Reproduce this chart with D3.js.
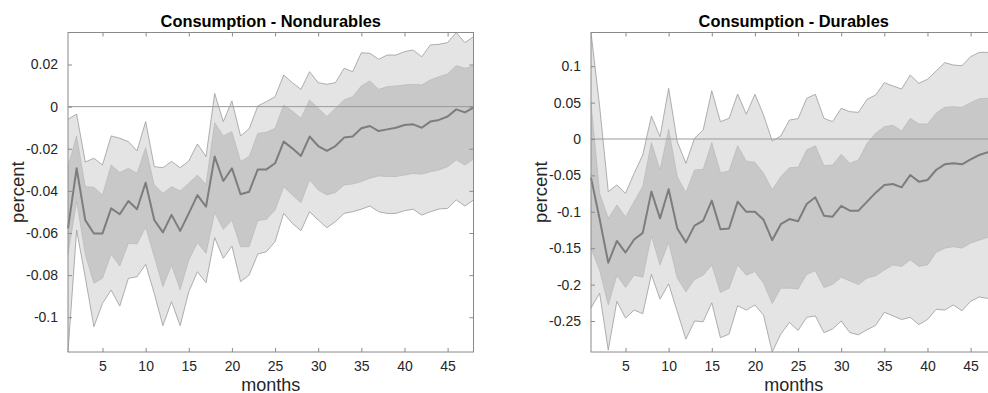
<!DOCTYPE html>
<html><head><meta charset="utf-8">
<script src="https://cdn.jsdelivr.net/npm/d3@7/dist/d3.min.js"></script>
<style>
html,body{margin:0;padding:0;background:#fff;}
svg{display:block;font-family:"Liberation Sans",Arial,Helvetica,sans-serif;}
</style></head>
<body><svg id="c" width="988" height="393"></svg>
<script>
// ---------------- data ----------------
const months = [1,2,3,4,5,6,7,8,9,10,11,12,13,14,15,16,17,18,19,20,21,22,23,24,25,26,27,28,29,30,31,32,33,34,35,36,37,38,39,40,41,42,43,44,45,46,47,48];

const titles = ["Consumption - Nondurables", "Consumption - Durables"];
const xLabel = "months";
const yLabel = "percent";
const xTicks = [5,10,15,20,25,30,35,40,45];
const yTicksND = [-0.1,-0.08,-0.06,-0.04,-0.02,0,0.02];
const yTicksD = [-0.25,-0.2,-0.15,-0.1,-0.05,0,0.05,0.1];

// Nondurables
const ndMedian = [-0.0578,-0.0293,-0.0539,-0.0602,-0.0602,-0.0483,-0.0511,-0.0448,-0.0487,-0.0361,-0.0538,-0.0597,-0.0514,-0.059,-0.0507,-0.042,-0.0475,-0.0237,-0.0353,-0.0293,-0.0416,-0.0404,-0.0298,-0.0298,-0.0269,-0.0166,-0.0198,-0.0234,-0.0142,-0.0187,-0.021,-0.0187,-0.0147,-0.0142,-0.0103,-0.0092,-0.0116,-0.0108,-0.01,-0.0087,-0.0084,-0.01,-0.0071,-0.0063,-0.0047,-0.0013,-0.0027,-0.0005];
const ndUpper68 = [-0.0285,-0.0139,-0.038,-0.0383,-0.042,-0.0277,-0.0313,-0.0293,-0.0317,-0.0195,-0.0372,-0.0412,-0.038,-0.04,-0.0364,-0.0325,-0.0369,-0.0076,-0.0139,-0.0119,-0.026,-0.0237,-0.0127,-0.0122,-0.0103,0.0008,-0.0021,-0.0055,0.0032,-0.0008,-0.0047,-0.0008,0.0032,0.0047,0.0098,0.0122,0.0082,0.0095,0.0098,0.0103,0.0106,0.0103,0.0127,0.0142,0.0155,0.0195,0.0182,0.0193];
const ndUpper90 = [-0.006,-0.0035,-0.0263,-0.0245,-0.0277,-0.0139,-0.015,-0.0166,-0.021,-0.0071,-0.0285,-0.029,-0.026,-0.029,-0.0258,-0.0177,-0.0237,0.0063,-0.0071,0.0027,-0.0139,-0.0105,0.0003,0.0024,0.0047,0.015,0.0114,0.0082,0.0166,0.0114,0.0106,0.0114,0.0182,0.0166,0.0256,0.0253,0.0225,0.0245,0.0245,0.0261,0.0269,0.0237,0.0293,0.0296,0.0304,0.0352,0.0304,0.0332];
const ndLower68 = [-0.07,-0.045,-0.07,-0.0839,-0.0815,-0.07,-0.0757,-0.0649,-0.0652,-0.0573,-0.0712,-0.0855,-0.0752,-0.087,-0.0728,-0.0646,-0.0697,-0.0503,-0.0583,-0.0538,-0.0665,-0.0665,-0.0541,-0.0535,-0.0491,-0.038,-0.0419,-0.0456,-0.0348,-0.0396,-0.0419,-0.0408,-0.0372,-0.0367,-0.0356,-0.034,-0.0329,-0.0332,-0.0332,-0.0325,-0.0317,-0.0321,-0.0309,-0.0301,-0.0285,-0.0253,-0.0277,-0.025];
const ndLower90 = [-0.1165,-0.0586,-0.081,-0.1045,-0.0934,-0.0871,-0.0947,-0.0815,-0.0808,-0.0749,-0.0887,-0.104,-0.0926,-0.104,-0.0879,-0.0784,-0.0836,-0.0622,-0.072,-0.0662,-0.0831,-0.0799,-0.07,-0.0689,-0.0641,-0.0507,-0.0554,-0.0589,-0.0499,-0.0538,-0.0575,-0.0546,-0.0507,-0.0499,-0.0487,-0.0472,-0.0499,-0.0507,-0.0507,-0.0494,-0.0487,-0.0515,-0.0499,-0.0486,-0.0483,-0.0443,-0.0472,-0.0443];

// Durables
const dMedian = [-0.053,-0.11,-0.17,-0.14,-0.156,-0.138,-0.129,-0.0723,-0.109,-0.069,-0.123,-0.142,-0.119,-0.112,-0.0847,-0.124,-0.123,-0.0861,-0.1,-0.1,-0.111,-0.139,-0.117,-0.11,-0.113,-0.0893,-0.0801,-0.1053,-0.1067,-0.092,-0.0984,-0.0984,-0.0861,-0.0737,-0.0632,-0.0618,-0.0664,-0.0494,-0.0586,-0.0563,-0.0426,-0.0348,-0.0334,-0.0348,-0.0279,-0.022,-0.0183,-0.016];
const dUpper68 = [0.049,-0.075,-0.109,-0.0907,-0.107,-0.0861,-0.065,-0.005,-0.0426,0.0133,-0.0517,-0.0737,-0.0426,-0.0417,-0.005,-0.0462,-0.044,-0.0092,-0.0305,-0.032,-0.0471,-0.07,-0.0517,-0.0394,-0.0389,-0.0151,-0.0092,-0.0366,-0.0357,-0.0211,-0.0334,-0.0289,-0.006,0.0078,0.0169,0.0188,0.011,0.0284,0.0206,0.0206,0.0353,0.0435,0.0444,0.0435,0.0499,0.0554,0.0559,0.056];
const dUpper90 = [0.1463,0.045,-0.0723,-0.0632,-0.0746,-0.0472,-0.022,0.0316,0.0032,0.0696,-0.0037,-0.0334,0.0009,0.0124,0.0664,0.0238,0.0284,0.0618,0.034,0.0614,0.033,-0.0027,0.0041,0.0261,0.0279,0.0559,0.0614,0.0284,0.0238,0.0421,0.0375,0.0366,0.0545,0.0604,0.0774,0.0728,0.0687,0.0879,0.0765,0.082,0.0934,0.1049,0.1016,0.1007,0.1131,0.119,0.119,0.12];
const dLower68 = [-0.15,-0.18,-0.228,-0.187,-0.204,-0.187,-0.19,-0.133,-0.173,-0.142,-0.191,-0.21,-0.193,-0.187,-0.173,-0.211,-0.205,-0.173,-0.187,-0.182,-0.198,-0.226,-0.205,-0.205,-0.206,-0.186,-0.181,-0.204,-0.2,-0.19,-0.195,-0.2,-0.191,-0.188,-0.18,-0.173,-0.175,-0.166,-0.175,-0.173,-0.156,-0.15,-0.148,-0.15,-0.143,-0.139,-0.135,-0.133];
const dLower90 = [-0.232,-0.212,-0.29,-0.223,-0.246,-0.235,-0.24,-0.186,-0.22,-0.199,-0.237,-0.275,-0.25,-0.251,-0.225,-0.273,-0.268,-0.229,-0.235,-0.228,-0.242,-0.2926,-0.268,-0.252,-0.263,-0.245,-0.243,-0.266,-0.261,-0.25,-0.266,-0.269,-0.262,-0.256,-0.238,-0.243,-0.248,-0.245,-0.255,-0.248,-0.234,-0.235,-0.228,-0.236,-0.223,-0.217,-0.219,-0.215];

// ---------------- drawing ----------------
const svg = d3.select("#c");
const TOP = 32.5, BOTTOM = 352;

const panels = [
  {x0: 68, x1: 473.5, title: titles[0], yTicks: yTicksND, med: ndMedian, u68: ndUpper68, l68: ndLower68, u90: ndUpper90, l90: ndLower90, ylabX: 18},
  {x0: 591, x1: 996.5, title: titles[1], yTicks: yTicksD, med: dMedian, u68: dUpper68, l68: dLower68, u90: dUpper90, l90: dLower90, ylabX: 541}
];

const fmt = v => String(+v.toFixed(2));
const TICK = 4;

panels.forEach(p => {
  const x = d3.scaleLinear().domain([months[0], months[months.length-1]]).range([p.x0, p.x1]);
  const y = d3.scaleLinear().domain([d3.min(p.l90), d3.max(p.u90)]).range([BOTTOM, TOP]);
  const g = svg.append("g");

  const rows = months.map((m,i) => ({m, med: p.med[i], u68: p.u68[i], l68: p.l68[i], u90: p.u90[i], l90: p.l90[i]}));

  const a90 = d3.area().x(d => x(d.m)).y0(d => y(d.l90)).y1(d => y(d.u90));
  const a68 = d3.area().x(d => x(d.m)).y0(d => y(d.l68)).y1(d => y(d.u68));
  const ln = key => d3.line().x(d => x(d.m)).y(d => y(d[key]));

  g.append("path").attr("d", a90(rows)).attr("fill", "#e4e4e4");
  g.append("path").attr("d", ln("u90")(rows)).attr("fill","none").attr("stroke","#9c9c9c").attr("stroke-width",0.8);
  g.append("path").attr("d", ln("l90")(rows)).attr("fill","none").attr("stroke","#9c9c9c").attr("stroke-width",0.8);
  g.append("path").attr("d", a68(rows)).attr("fill", "#c8c8c8");
  g.append("path").attr("d", ln("u68")(rows)).attr("fill","none").attr("stroke","#b4b4b4").attr("stroke-width",0.6);
  g.append("path").attr("d", ln("l68")(rows)).attr("fill","none").attr("stroke","#b4b4b4").attr("stroke-width",0.6);

  // zero line
  g.append("line").attr("x1", p.x0).attr("x2", p.x1).attr("y1", y(0)).attr("y2", y(0))
    .attr("stroke", "#9a9a9a").attr("stroke-width", 1);

  // median
  g.append("path").attr("d", ln("med")(rows)).attr("fill","none").attr("stroke","#7d7d7d").attr("stroke-width",2).attr("stroke-linejoin","round");

  // axes (inside ticks, box)
  const axB = d3.axisBottom(x).tickValues(xTicks).tickSizeInner(-TICK).tickSizeOuter(0).tickPadding(9).tickFormat(d3.format("d"));
  const axT = d3.axisTop(x).tickValues(xTicks).tickSizeInner(-TICK).tickSizeOuter(0).tickFormat("");
  const axL = d3.axisLeft(y).tickValues(p.yTicks).tickSizeInner(-TICK).tickSizeOuter(0).tickPadding(10).tickFormat(fmt);
  const axR = d3.axisRight(y).tickValues(p.yTicks).tickSizeInner(-TICK).tickSizeOuter(0).tickFormat("");

  const style = sel => {
    sel.select(".domain").remove();
    sel.selectAll(".tick line").attr("stroke", "#8a8a8a");
    sel.selectAll("text").attr("fill", "#262626").style("font-size", "14px").style("font-family", "Liberation Sans, Arial, sans-serif");
  };
  g.append("g").attr("transform", `translate(0,${BOTTOM})`).call(axB).call(style);
  g.append("g").attr("transform", `translate(0,${TOP})`).call(axT).call(style);
  g.append("g").attr("transform", `translate(${p.x0},0)`).call(axL).call(style);
  g.append("g").attr("transform", `translate(${p.x1},0)`).call(axR).call(style);

  g.append("rect").attr("x", p.x0).attr("y", TOP).attr("width", p.x1 - p.x0).attr("height", BOTTOM - TOP)
    .attr("fill", "none").attr("stroke", "#8a8a8a").attr("stroke-width", 1);

  // title
  g.append("text").attr("x", (p.x0 + p.x1) / 2).attr("y", 26.5).attr("text-anchor", "middle")
    .style("font-size", "16.4px").style("font-weight", "bold").attr("fill", "#000").text(p.title);
  // x label
  g.append("text").attr("x", (p.x0 + p.x1) / 2).attr("y", 390.5).attr("text-anchor", "middle")
    .style("font-size", "18px").attr("fill", "#262626").text(xLabel);
  // y label
  g.append("text").attr("transform", `translate(${p.ylabX},${(TOP + BOTTOM) / 2}) rotate(-90)`)
    .attr("text-anchor", "middle").attr("dy", "0.35em")
    .style("font-size", "18.5px").attr("fill", "#262626").text(yLabel);
});
</script>
</body></html>
